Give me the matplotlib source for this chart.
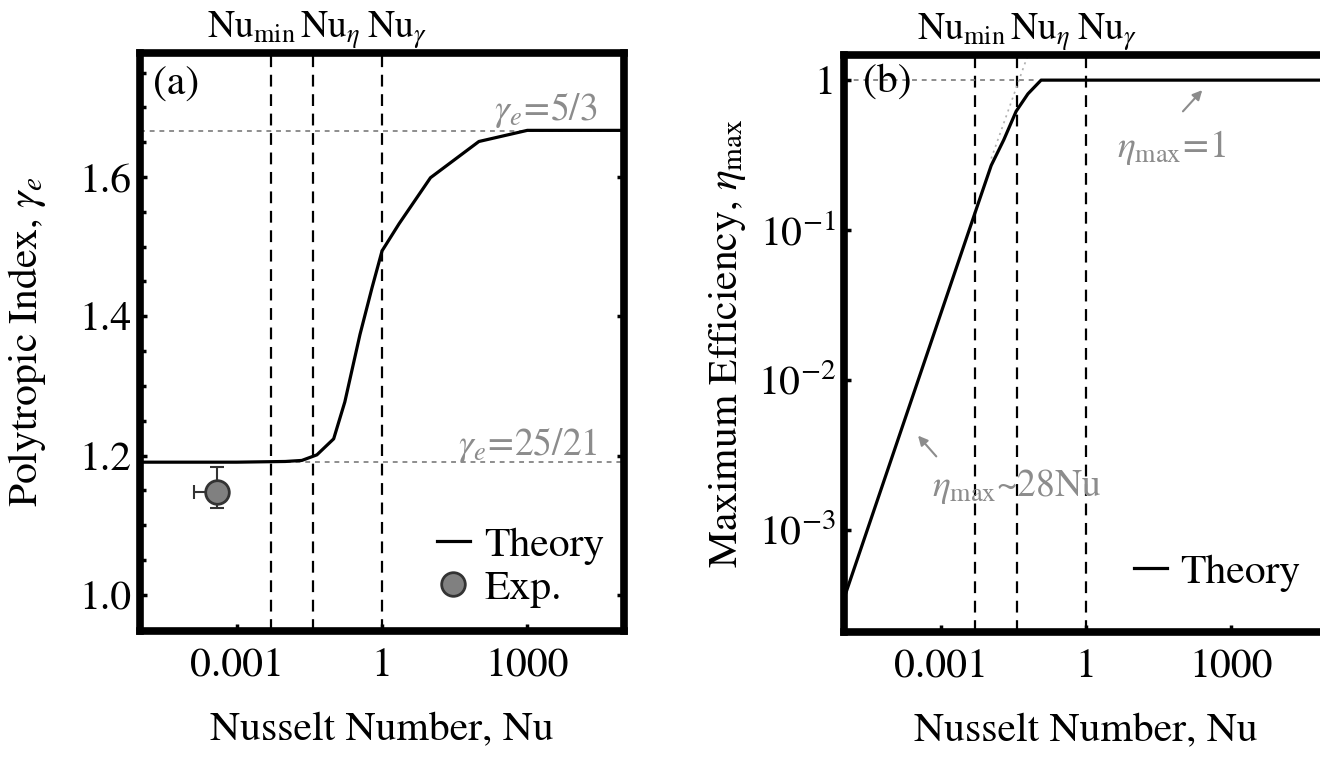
import matplotlib
matplotlib.use("Agg")
import matplotlib.pyplot as plt
from matplotlib.ticker import FixedLocator, FixedFormatter, NullLocator

plt.rcParams['font.family'] = ['STIXGeneral', 'DejaVu Serif']
plt.rcParams['mathtext.fontset'] = 'stix'
plt.rcParams['font.size'] = 30
plt.rcParams['lines.scale_dashes'] = False

# (a) polytropic index vs Nusselt number
nu_a = [1e-5, 1e-4, 1e-3, 0.01, 0.022, 0.045, 0.10, 0.17, 0.35, 0.62, 1.0, 2.25, 10, 100, 1000, 1e4, 1e5]
gamma_theory = [1.1905, 1.1905, 1.1905, 1.1915, 1.193, 1.201, 1.224, 1.277, 1.374, 1.441, 1.494, 1.533,
                1.599, 1.651, 1.667, 1.667, 1.667]
nu_exp = [3.9e-4]
gamma_exp = [1.148]
gamma_err = [[0.023], [0.036]]
nu_err = [[2.6e-4], [0.8e-4]]

# (b) maximum efficiency vs Nusselt number
nu_b = [1e-5, 0.0059, 0.011, 0.020, 0.036, 0.063, 0.118, 1e5]
eta_theory = [3.5e-4, 0.15, 0.27, 0.40, 0.62, 0.81, 1.0, 1.0]
nu_asym = [0.011, 0.062]
eta_asym = [0.30, 1.45]

# characteristic Nusselt numbers
nu_marks = [0.005, 0.037, 1.0]
mark_labels = [r'Nu$_{\rm min}$', r'Nu$_{\eta}$', r'Nu$_{\gamma}$']

gray = '#8c8c8c'
dotgray = '#7a7a7a'

fig = plt.figure(figsize=(13.2, 7.57), dpi=100)
ax1 = fig.add_axes([0.1061, 0.1664, 0.3667, 0.7635])
ax2 = fig.add_axes([0.6394, 0.1651, 0.3667, 0.7622])

for ax in (ax1, ax2):
    ax.set_xscale('log')
    ax.set_xlim(1e-5, 1e5)
    for s in ax.spines.values():
        s.set_linewidth(5.5)
    ax.xaxis.set_major_locator(FixedLocator([1e-3, 1, 1e3]))
    ax.xaxis.set_major_formatter(FixedFormatter(['0.001', '1', '1000']))
    ax.xaxis.set_minor_locator(NullLocator())
    ax.tick_params(which='both', direction='in', width=2.5, length=5, labelsize=30)
    ax.tick_params(axis='x', pad=12)
    ax.tick_params(axis='y', pad=6)
    for xv in nu_marks:
        ax.axvline(xv, color='black', lw=1.6, ls=(0, (8.5, 5.5)), zorder=1)
    ax.set_xlabel('Nusselt Number, Nu', fontsize=30)
    ax.xaxis.set_label_coords(0.5, -0.14)
    x0 = [0.138, 0.331, 0.469] if ax is ax1 else [0.151, 0.343, 0.481]
    for xf, lab in zip(x0, mark_labels):
        ax.text(xf, 1.026, lab, transform=ax.transAxes, ha='left', va='baseline', fontsize=27)

# ---- panel (a)
ax1.set_ylim(0.948, 1.778)
ax1.set_yticks([1.0, 1.2, 1.4, 1.6])
ax1.set_yticklabels(['1.0', '1.2', '1.4', '1.6'])
ax1.set_yticks([0.95, 1.05, 1.1, 1.15, 1.25, 1.3, 1.35, 1.45, 1.5, 1.55, 1.65, 1.7, 1.75], minor=True)
ax1.tick_params(which='minor', axis='y', length=4)
ax1.tick_params(which='major', right=True)
ax1.axhline(5 / 3, color=dotgray, lw=1.2, ls=(0, (3.5, 3.5)), zorder=1)
ax1.axhline(25 / 21, color=dotgray, lw=1.2, ls=(0, (3.5, 3.5)), zorder=1)
ax1.plot(nu_a, gamma_theory, color='black', lw=2.3, label='Theory', zorder=3)
ax1.errorbar(nu_exp, gamma_exp, xerr=nu_err, yerr=gamma_err, fmt='none', ecolor='#333333',
             elinewidth=1.5, capsize=5, capthick=1.5, zorder=4)
ax1.plot(nu_exp, gamma_exp, 'o', ms=17, mfc='#808080', mec='#333333', mew=2, zorder=5)
ax1.plot([], [], 'o', ms=17, mfc='#808080', mec='#333333', mew=2, label='Exp.')
ax1.legend(loc='lower right', bbox_to_anchor=(0.96, 0.04), frameon=False, fontsize=30,
           handlelength=0.8, handletextpad=0.35, labelspacing=0.12, borderpad=0, borderaxespad=0)
ax1.text(0.946, 1.696, r'$\gamma_e\!=\!5/3$', transform=ax1.get_yaxis_transform(),
         ha='right', va='center', color=gray, fontsize=27)
ax1.text(0.946, 1.215, r'$\gamma_e\!=\!25/21$', transform=ax1.get_yaxis_transform(),
         ha='right', va='center', color=gray, fontsize=27)
ax1.text(0.027, 0.945, '(a)', transform=ax1.transAxes, ha='left', va='center', fontsize=30)
ax1.set_ylabel(r'Polytropic Index, $\gamma_e$', fontsize=30)
ax1.yaxis.set_label_coords(-0.19, 0.5)

# ---- panel (b)
ax2.set_yscale('log')
ax2.set_ylim(2.09e-4, 1.47)
ax2.yaxis.set_major_locator(FixedLocator([1e-3, 1e-2, 1e-1, 1]))
ax2.yaxis.set_major_formatter(FixedFormatter([r'$10^{-3}$', r'$10^{-2}$', r'$10^{-1}$', '1']))
ax2.yaxis.set_minor_locator(NullLocator())
ax2.axhline(1.0, xmax=0.4, color=dotgray, lw=1.2, ls=(0, (3.5, 3.5)), zorder=1)
ax2.plot(nu_asym, eta_asym, color='#b0b0b0', lw=1.2, ls=(0, (1.5, 3)), zorder=1)
ax2.plot(nu_b, eta_theory, color='black', lw=2.3, label='Theory', zorder=3)
ax2.legend(loc='lower right', bbox_to_anchor=(0.942, 0.07), frameon=False, fontsize=30,
           handlelength=0.8, handletextpad=0.3, borderpad=0, borderaxespad=0)
ax2.annotate('', xy=(275, 0.885), xytext=(92, 0.60),
             arrowprops=dict(arrowstyle='-|>', color=gray, lw=1.5, mutation_scale=14))
ax2.text(57, 0.357, r'$\eta_{\rm max}\!=\!1$', ha='center', va='center', color=gray, fontsize=27)
ax2.annotate('', xy=(3.1e-4, 4.4e-3), xytext=(8.8e-4, 3.0e-3),
             arrowprops=dict(arrowstyle='-|>', color=gray, lw=1.5, mutation_scale=14))
ax2.text(0.037, 1.94e-3, r'$\eta_{\rm max}$~28Nu', ha='center', va='center', color=gray, fontsize=27)
ax2.text(0.039, 0.953, '(b)', transform=ax2.transAxes, ha='left', va='center', fontsize=30)
ax2.set_ylabel(r'Maximum Efficiency, $\eta_{\rm max}$', fontsize=30)
ax2.yaxis.set_label_coords(-0.198, 0.5)

fig.savefig('out.png', dpi=100)
